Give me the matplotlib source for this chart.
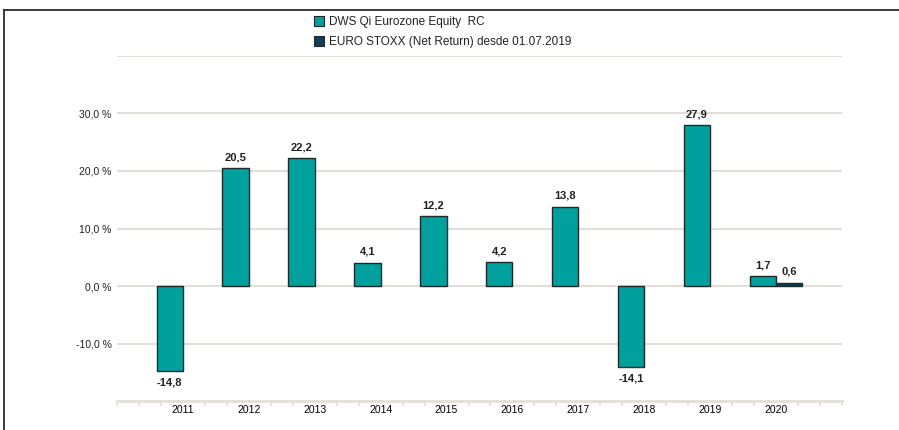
import matplotlib
matplotlib.use("Agg")
import matplotlib.pyplot as plt
import numpy as np
from matplotlib.patches import Patch
from matplotlib.lines import Line2D

plt.rcParams['font.family'] = ['Liberation Sans', 'DejaVu Sans']

years = ["2011", "2012", "2013", "2014", "2015", "2016", "2017", "2018", "2019", "2020"]
fund = [-14.8, 20.5, 22.2, 4.1, 12.2, 4.2, 13.8, -14.1, 27.9, 1.7]
bench_years = ["2020"]
bench = [0.6]
series_names = ["DWS Qi Eurozone Equity  RC", "EURO STOXX (Net Return) desde 01.07.2019"]
yticks = [-10, 0, 10, 20, 30]

teal = "#00A09F"
navy = "#0D3E5C"
edge = "#1c2a2a"
grid_c = "#e2dfd8"
txt = "#222222"

fig = plt.figure(figsize=(8.99, 4.30), dpi=100)
ax = fig.add_axes([117/899, (430-401.3)/430, 725/899, 345.5/430])

x = np.arange(len(years))
w = 0.4
ax.bar(x - w/2, fund, width=w, color=teal, edgecolor=edge, linewidth=1.0, zorder=3)
bx = np.array([years.index(y) for y in bench_years])
ax.bar(bx + w/2, bench, width=w, color=navy, edgecolor=edge, linewidth=1.0, zorder=3)

def fmt(v):
    return f"{v:.1f}".replace(".", ",")

for xi, v in zip(x, fund):
    if v >= 0:
        ax.text(xi - w/2, v + 1.0, fmt(v), ha="center", va="bottom", fontsize=8, fontweight="bold", color=txt)
    else:
        ax.text(xi - w/2, v - 1.0, fmt(v), ha="center", va="top", fontsize=8, fontweight="bold", color=txt)
for xi, v in zip(bx, bench):
    ax.text(xi + w/2, v + 1.0, fmt(v), ha="center", va="bottom", fontsize=8, fontweight="bold", color=txt)

ax.set_xlim(-1, 10)
ax.set_ylim(-20, 40)

for g in yticks + [40]:
    ax.axhline(g, color=grid_c, linewidth=1.5, zorder=1)

ax.set_yticks(yticks)
ax.set_yticklabels([fmt(v) + " %" for v in yticks], color=txt)
ax.tick_params(axis="y", length=0, pad=4, labelsize=7.5)

ax.set_xticks(x)
ax.set_xticklabels(years, color=txt)
minor = [k/3 for k in range(-3, 31) if k % 3 != 0 or k in (-3, 30)]
ax.set_xticks(minor, minor=True)
ax.tick_params(axis="x", which="major", length=0, pad=3, labelsize=7.5)
ax.tick_params(axis="x", which="minor", length=3.5, width=1.2, color=grid_c, direction="out")

for s in ["top", "right", "left"]:
    ax.spines[s].set_visible(False)
ax.spines["bottom"].set_color(grid_c)
ax.spines["bottom"].set_linewidth(2)
ax.spines["bottom"].set_position(("data", -20))

handles = [Patch(facecolor=teal, edgecolor=edge, linewidth=0.8),
           Patch(facecolor=navy, edgecolor=edge, linewidth=0.8)]
fig.legend(handles, series_names, loc="upper left", bbox_to_anchor=(314/899, 1-16/430),
           frameon=False, fontsize=8.5, handlelength=0.85, handleheight=0.85,
           handletextpad=0.45, labelspacing=0.7, borderaxespad=0, borderpad=0,
           labelcolor=txt)

fig.add_artist(Line2D([4/899, 4/899], [0, 1-10/430], color="#2b2b2b", linewidth=1.3, transform=fig.transFigure))
fig.add_artist(Line2D([4/899, 1], [1-10/430, 1-10/430], color="#2b2b2b", linewidth=1.3, transform=fig.transFigure))

fig.savefig("out.png", dpi=100)
